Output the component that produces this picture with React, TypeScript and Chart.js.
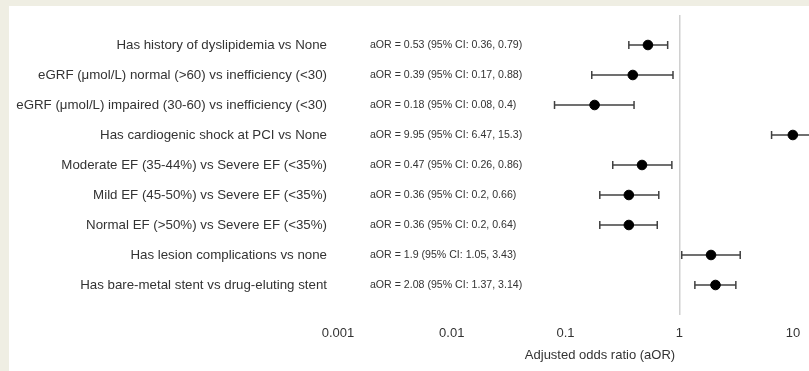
import React, { useEffect, useRef } from "react";
import { Chart, registerables } from "chart.js";

Chart.register(...registerables);

const LABELS = [
  "Has history of dyslipidemia vs None",
  "eGRF (μmol/L) normal (>60) vs inefficiency (<30)",
  "eGRF (μmol/L) impaired (30-60) vs inefficiency (<30)",
  "Has cardiogenic shock at PCI vs None",
  "Moderate EF (35-44%) vs Severe EF (<35%)",
  "Mild EF (45-50%) vs Severe EF (<35%)",
  "Normal EF (>50%) vs Severe EF (<35%)",
  "Has lesion complications vs none",
  "Has bare-metal stent vs drug-eluting stent",
];
const AOR = [0.53, 0.39, 0.18, 9.95, 0.47, 0.36, 0.36, 1.9, 2.08];
const LO = [0.36, 0.17, 0.08, 6.47, 0.26, 0.2, 0.2, 1.05, 1.37];
const HI = [0.79, 0.88, 0.4, 15.3, 0.86, 0.66, 0.64, 3.43, 3.14];
const X_TICKS = [0.001, 0.01, 0.1, 1, 10];
const X_TITLE = "Adjusted odds ratio (aOR)";

const FONT = '"Liberation Sans", Arial, sans-serif';
const TEXT = "#333333";

export default function App() {
  const ref = useRef<HTMLCanvasElement>(null);

  useEffect(() => {
    document.body.style.margin = "0";
    document.body.style.overflow = "hidden";
    const canvas = ref.current;
    if (!canvas) return;

    const ciSets = LABELS.map((_, i) => ({
      type: "line" as const,
      data: [
        { x: LO[i], y: i + 1 },
        { x: HI[i], y: i + 1 },
      ],
      borderColor: "#404040",
      borderWidth: 1.5,
      showLine: true,
      pointStyle: "line" as const,
      pointRotation: 90,
      pointRadius: 4,
      pointBorderColor: "#404040",
      pointBorderWidth: 1.5,
      pointHoverRadius: 4,
    }));

    const annotPlugin = {
      id: "annot",
      afterDatasetsDraw(chart: any) {
        const { ctx, chartArea } = chart;
        const xs = chart.scales.x;
        const ys = chart.scales.y;
        ctx.save();
        ctx.fillStyle = TEXT;
        ctx.font = `10.6px ${FONT}`;
        ctx.textAlign = "left";
        ctx.textBaseline = "middle";
        const ax = xs.getPixelForValue(0.00191);
        LABELS.forEach((_, i) => {
          const txt = `aOR = ${AOR[i]} (95% CI: ${LO[i]}, ${HI[i]})`;
          ctx.fillText(txt, ax, ys.getPixelForValue(i + 1));
        });
        ctx.font = `13px ${FONT}`;
        ctx.textAlign = "center";
        ctx.fillText(X_TITLE, chartArea.left + 262, chartArea.bottom + 40);
        ctx.restore();
      },
    };

    const chart = new Chart(canvas, {
      type: "scatter",
      data: {
        datasets: [
          {
            type: "scatter" as const,
            data: AOR.map((v, i) => ({ x: v, y: i + 1 })),
            backgroundColor: "#000000",
            borderColor: "#000000",
            pointRadius: 4.8,
            pointHoverRadius: 4.8,
          },
          ...ciSets,
        ] as any,
      },
      options: {
        responsive: false,
        animation: false,
        devicePixelRatio: 1,
        layout: { autoPadding: false, padding: { top: 9, right: 0, left: 0, bottom: 0 } },
        plugins: {
          legend: { display: false },
          tooltip: { enabled: false },
          title: { display: false },
        },
        scales: {
          x: {
            type: "logarithmic",
            min: 0.001,
            max: 13.8,
            afterBuildTicks: (s: any) => {
              s.ticks = X_TICKS.map((v) => ({ value: v }));
            },
            afterFit: (s: any) => {
              s.height = 56;
              s.paddingLeft = 0;
              s.paddingRight = 0;
            },
            ticks: {
              autoSkip: false,
              maxRotation: 0,
              padding: 11,
              color: TEXT,
              font: { family: FONT, size: 13 },
              callback: (v: any) => String(v),
            },
            grid: {
              drawTicks: false,
              color: (c: any) =>
                c.tick && c.tick.value === 1 ? "#d0d0d0" : "rgba(0,0,0,0)",
              lineWidth: 1.5,
            },
            border: { display: false },
          },
          y: {
            type: "linear",
            min: 0,
            max: 10,
            reverse: true,
            afterBuildTicks: (s: any) => {
              s.ticks = LABELS.map((_, i) => ({ value: i + 1 }));
            },
            afterFit: (s: any) => {
              s.width = 329;
              s.paddingTop = 0;
              s.paddingBottom = 0;
            },
            ticks: {
              autoSkip: false,
              padding: 11,
              color: TEXT,
              font: { family: FONT, size: 13.3 },
              callback: (v: any) => LABELS[Math.round(v) - 1] ?? "",
            },
            grid: { display: false, drawTicks: false },
            border: { display: false },
          },
        },
      },
      plugins: [annotPlugin],
    });

    return () => chart.destroy();
  }, []);

  return (
    <div
      style={{
        background: "#efeee3",
        width: 809,
        height: 371,
        paddingLeft: 9,
        paddingTop: 6,
        boxSizing: "border-box",
        overflow: "hidden",
      }}
    >
      <div style={{ background: "#ffffff", width: 800, height: 365 }}>
        <canvas ref={ref} width={800} height={365} style={{ display: "block" }} />
      </div>
    </div>
  );
}
